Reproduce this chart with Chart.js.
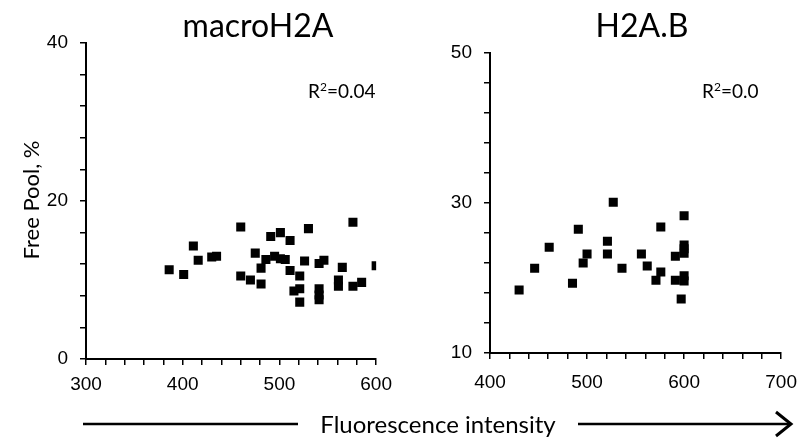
<!DOCTYPE html>
<html>
<head>
<meta charset="utf-8">
<script src="https://cdn.jsdelivr.net/npm/chart.js@4.4.0/dist/chart.umd.min.js"></script>
<style>
  body { margin: 0; background: #fff; }
  #page { position: relative; width: 809px; height: 438px; overflow: hidden; font-family: 'Lato', sans-serif; color: #000; }
  .box { position: absolute; top: 0; height: 400px; }
  .titolo { position: absolute; top: 5px; font-size: 32px; transform: translateX(-50%); white-space: nowrap; }
  .r2 { position: absolute; top: 79px; font-size: 19px; white-space: nowrap; }
  .r2 sup { font-size: 12px; vertical-align: 7px; }
  #ylab { position: absolute; left: 30px; top: 200px; font-size: 22px; white-space: nowrap; transform: translate(-50%, -50%) rotate(-90deg); }
  #xlab { position: absolute; left: 438px; top: 423px; font-size: 24px; white-space: nowrap; transform: translate(-50%, -50%); }
</style>
</head>
<body>
<div id="page">
  <div class="box" style="left:0;width:400px"><canvas id="sinistra"></canvas></div>
  <div class="box" style="left:400px;width:409px"><canvas id="destra"></canvas></div>
  <div class="titolo" style="left:258px">macroH2A</div>
  <div class="titolo" style="left:642px">H2A.B</div>
  <div class="r2" style="left:308px">R<sup>2</sup>=0.04</div>
  <div class="r2" style="left:702px">R<sup>2</sup>=0.0</div>
  <div id="ylab">Free Pool, %</div>
  <svg style="position:absolute;left:0;top:0" width="809" height="438">
    <line x1="83" y1="424" x2="298" y2="424" stroke="#000" stroke-width="2.5"/>
    <line x1="578" y1="424" x2="790" y2="424" stroke="#000" stroke-width="2.5"/>
    <polyline points="776,412 791,424 776,436" fill="none" stroke="#000" stroke-width="3"/>
  </svg>
  <div id="xlab">Fluorescence intensity</div>
</div>
<script>
// dati: macroH2A
var macroX = [386, 401, 411, 416, 430, 435, 460, 460, 470, 475, 481, 481, 486, 491, 495, 501, 501, 506, 511, 511,
  521, 526, 515, 521, 521, 530, 576, 541, 546, 565, 600, 561, 585, 541, 561, 576, 541, 541];
var macroY = [11.3, 10.7, 14.3, 12.5, 12.9, 13.0, 16.7, 10.5, 10.0, 13.4, 11.5, 9.5, 12.6, 15.5, 13.0, 16.0, 12.7, 12.6, 15.0, 11.2,
  10.5, 12.4, 8.6, 8.9, 7.2, 16.5, 17.3, 12.1, 12.5, 11.6, 11.8, 10.0, 9.7, 8.9, 9.2, 9.2, 8.1, 7.5];

// dati: H2A.B
var h2abX = [430, 446, 461, 485, 491, 496, 500, 521, 521, 527, 536, 556, 562, 571, 576, 576, 591, 591,
  600, 600, 600, 600, 600, 600, 597];
var h2abY = [18.4, 21.3, 24.1, 19.3, 26.5, 22.0, 23.2, 24.9, 23.2, 30.1, 21.3, 23.2, 21.6, 19.7, 26.8, 20.8, 22.9, 19.7,
  28.3, 24.4, 23.9, 23.3, 20.3, 19.6, 17.2];

// limiti degli assi: min, max, passo tacche, passo etichette
var macroXAxis = [300, 600, 20, 100];
var macroYAxis = [0, 40, 4, 20];
var h2abXAxis = [400, 700, 20, 100];
var h2abYAxis = [10, 50, 4, 20];

function punti(xs, ys) {
  var lista = [];
  for (var i = 0; i < xs.length; i++) {
    lista.push({ x: xs[i], y: ys[i] });
  }
  return lista;
}

// asse lineare con tacche piccole e etichette solo ogni lim[3]
function asse(lim, larghezza, altezza, padding) {
  return {
    type: 'linear',
    min: lim[0],
    max: lim[1],
    border: { color: '#000', width: 2 },
    grid: { drawOnChartArea: false, color: '#000', lineWidth: 1.5, tickLength: 6 },
    ticks: {
      stepSize: lim[2],
      color: '#000',
      padding: padding,
      maxRotation: 0,
      autoSkip: false,
      font: { family: 'Liberation Sans', size: 19 },
      callback: function(v) {
        return ((v - lim[0]) % lim[3] === 0) ? String(v) : '';
      }
    },
    afterFit: function(scale) {
      if (larghezza) scale.width = larghezza;
      if (altezza) scale.height = altezza;
    }
  };
}

function creaGrafico(id, xs, ys, limX, limY, cfg) {
  var ctx = document.getElementById(id);
  return new Chart(ctx, {
    type: 'scatter',
    data: {
      datasets: [{
        data: punti(xs, ys),
        pointStyle: 'rect',
        pointRadius: 6.4,
        pointHoverRadius: 6.4,
        backgroundColor: '#000',
        borderWidth: 0
      }]
    },
    options: {
      responsive: true,
      maintainAspectRatio: false,
      animation: false,
      layout: { padding: { top: cfg.top, right: cfg.right, left: 0, bottom: 0 } },
      plugins: { legend: { display: false }, tooltip: { enabled: false } },
      scales: {
        x: asse(limX, 0, cfg.xh, cfg.xpad),
        y: asse(limY, cfg.yw, 0, 12)
      }
    }
  });
}

creaGrafico('sinistra', macroX, macroY, macroXAxis, macroYAxis, { top: 43, right: 23, xh: 41, yw: 86, xpad: 8 });
creaGrafico('destra', h2abX, h2abY, h2abXAxis, h2abYAxis, { top: 53, right: 23, xh: 47, yw: 90, xpad: 12 });
</script>
</body>
</html>
